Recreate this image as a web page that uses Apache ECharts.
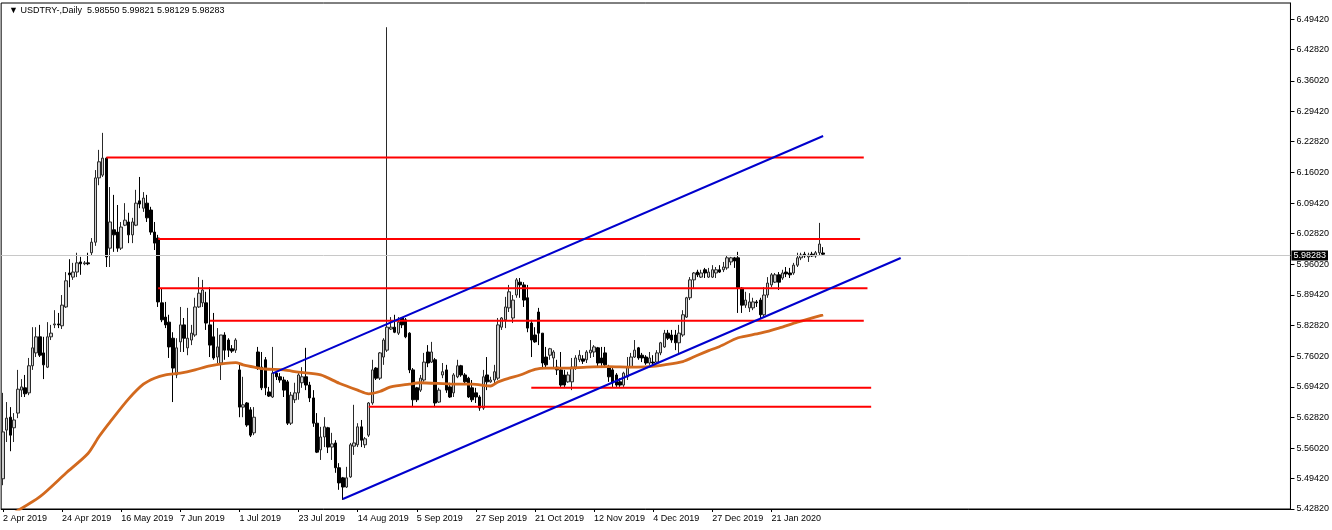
<!DOCTYPE html>
<html><head><meta charset="utf-8">
<script src="https://cdn.jsdelivr.net/npm/echarts@6/dist/echarts.min.js"></script>
<style>html,body{margin:0;padding:0;background:#fff}#c{width:1332px;height:530px}</style>
</head><body><div id="c"></div>
<script>
const chartTitle = '\u25BC USDTRY-,Daily  5.98550 5.99821 5.98129 5.98283';
const firstDate = '2019-04-02';
const holidays = ['2019-12-25', '2020-01-01'];
const totalSlots = 349;
const labelEvery = 16;

const open = [5.494,5.600,5.628,5.605,5.637,5.687,5.692,5.681,5.740,5.768,5.803,5.768,5.737,5.803,5.829,5.831,5.827,5.868,5.942,5.933,
5.944,5.966,5.962,5.964,5.986,6.009,6.149,6.155,6.192,5.996,6.036,6.031,5.996,6.046,6.053,6.025,6.046,6.099,6.083,6.094,
6.079,6.031,6.018,5.877,5.846,5.835,5.800,5.720,5.792,5.829,5.779,5.796,5.807,5.868,5.877,5.877,5.829,5.803,5.759,5.746,
5.807,5.796,5.777,5.774,5.731,5.650,5.659,5.644,5.594,5.770,5.737,5.753,5.683,5.672,5.724,5.716,5.709,5.705,5.615,5.666,
5.681,5.703,5.716,5.698,5.670,5.615,5.557,5.585,5.605,5.563,5.572,5.518,5.496,5.476,5.498,5.565,5.568,5.607,5.568,5.589,
5.659,5.735,5.713,5.759,5.774,5.820,5.824,5.811,5.844,5.840,5.811,5.731,5.692,5.687,5.709,5.770,5.748,5.753,5.661,5.720,
5.731,5.694,5.681,5.716,5.740,5.720,5.713,5.692,5.681,5.672,5.648,5.720,5.705,5.709,5.713,5.824,5.840,5.866,5.844,5.894,
5.922,5.916,5.888,5.833,5.807,5.857,5.811,5.759,5.763,5.757,5.737,5.731,5.720,5.705,5.705,5.737,5.753,5.755,5.753,5.768,
5.770,5.779,5.757,5.768,5.737,5.731,5.720,5.705,5.698,5.716,5.737,5.759,5.779,5.763,5.759,5.746,5.748,5.748,5.768,5.781,
5.811,5.807,5.807,5.790,5.807,5.846,5.888,5.927,5.944,5.933,5.949,5.933,5.933,5.942,5.949,5.949,5.953,5.966,5.975,5.975,
5.909,5.872,5.866,5.866,5.879,5.883,5.851,5.894,5.916,5.922,5.938,5.931,5.944,5.942,5.942,5.959,5.975,5.983,5.977,5.983,
5.979,5.986,5.98550];
const high = [5.681,5.661,5.650,5.637,5.731,5.711,5.720,5.757,5.824,5.824,5.829,5.803,5.835,5.829,5.861,5.855,5.894,5.944,5.972,5.964,
5.986,5.977,5.968,5.986,6.018,6.166,6.210,6.247,6.194,6.129,6.112,6.090,6.053,6.094,6.073,6.062,6.123,6.151,6.118,6.112,
6.086,6.053,6.025,5.909,5.879,5.851,5.813,5.800,5.868,5.844,5.866,5.829,5.888,5.933,5.927,5.901,5.911,5.855,5.822,5.807,
5.813,5.800,5.785,5.800,5.742,5.716,5.661,5.650,5.650,5.781,5.770,5.759,5.694,5.781,5.727,5.724,5.716,5.709,5.683,5.703,
5.724,5.737,5.779,5.705,5.687,5.637,5.607,5.628,5.607,5.594,5.578,5.528,5.498,5.520,5.572,5.655,5.615,5.622,5.585,5.661,
5.753,5.737,5.770,5.800,6.477,5.846,5.851,5.846,5.846,5.844,5.813,5.735,5.694,5.720,5.768,5.785,5.792,5.757,5.692,5.746,
5.742,5.703,5.724,5.753,5.742,5.724,5.716,5.709,5.692,5.676,5.731,5.759,5.716,5.742,5.844,5.846,5.890,5.916,5.894,5.931,
5.931,5.922,5.916,5.840,5.824,5.866,5.811,5.781,5.779,5.774,5.753,5.770,5.731,5.727,5.757,5.763,5.774,5.763,5.774,5.796,
5.785,5.781,5.781,5.781,5.742,5.735,5.724,5.713,5.727,5.759,5.768,5.796,5.781,5.768,5.763,5.770,5.763,5.774,5.792,5.818,
5.818,5.818,5.818,5.829,5.861,5.890,5.933,5.944,5.949,5.949,5.953,5.953,5.959,5.955,5.959,5.966,5.981,5.977,5.977,5.988,
5.911,5.901,5.898,5.888,5.883,5.888,5.911,5.933,5.942,5.942,5.944,5.949,5.955,5.953,5.964,5.986,5.986,5.988,5.986,5.988,
5.990,6.051,5.99821];
const low = [5.480,5.574,5.554,5.574,5.626,5.672,5.672,5.676,5.731,5.759,5.759,5.711,5.735,5.796,5.822,5.822,5.820,5.866,5.911,5.927,
5.933,5.938,5.959,5.959,5.979,6.001,6.133,6.151,5.955,5.955,5.988,5.988,5.992,6.044,6.007,6.007,6.044,6.083,6.075,6.053,
6.025,5.992,5.868,5.835,5.822,5.757,5.661,5.713,5.770,5.770,5.763,5.785,5.803,5.866,5.868,5.818,5.759,5.753,5.746,5.709,
5.753,5.759,5.768,5.768,5.628,5.628,5.607,5.585,5.589,5.731,5.687,5.676,5.672,5.670,5.709,5.703,5.672,5.611,5.611,5.659,
5.666,5.692,5.687,5.661,5.607,5.550,5.535,5.563,5.550,5.535,5.507,5.470,5.448,5.474,5.496,5.546,5.563,5.563,5.561,5.585,
5.655,5.709,5.709,5.742,5.770,5.818,5.811,5.807,5.822,5.800,5.724,5.650,5.661,5.683,5.705,5.737,5.746,5.650,5.659,5.713,
5.681,5.670,5.672,5.713,5.716,5.698,5.670,5.661,5.659,5.642,5.644,5.687,5.703,5.700,5.709,5.818,5.822,5.857,5.833,5.888,
5.888,5.868,5.813,5.759,5.790,5.785,5.737,5.735,5.753,5.735,5.720,5.694,5.694,5.703,5.687,5.731,5.748,5.744,5.746,5.757,
5.759,5.737,5.740,5.737,5.705,5.694,5.694,5.694,5.694,5.709,5.735,5.757,5.753,5.748,5.742,5.742,5.740,5.746,5.763,5.779,
5.796,5.790,5.774,5.768,5.803,5.844,5.883,5.909,5.933,5.931,5.931,5.931,5.931,5.931,5.942,5.944,5.949,5.959,5.953,5.855,
5.855,5.866,5.857,5.861,5.868,5.844,5.846,5.888,5.911,5.920,5.905,5.927,5.933,5.931,5.938,5.955,5.970,5.975,5.966,5.977,
5.975,5.981,5.98129];
const close = [5.596,5.626,5.589,5.622,5.689,5.694,5.679,5.740,5.779,5.803,5.763,5.742,5.803,5.811,5.831,5.829,5.872,5.925,5.938,5.944,
5.964,5.962,5.964,5.962,6.009,6.149,6.184,6.192,5.977,6.053,6.025,5.996,6.042,6.057,6.025,6.053,6.094,6.092,6.105,6.062,
6.031,6.007,5.879,5.840,5.829,5.781,5.735,5.779,5.829,5.800,5.800,5.811,5.868,5.898,5.905,5.833,5.785,5.757,5.781,5.807,
5.774,5.774,5.772,5.796,5.650,5.655,5.611,5.589,5.628,5.737,5.692,5.692,5.674,5.724,5.716,5.709,5.687,5.615,5.676,5.681,
5.720,5.716,5.698,5.670,5.615,5.552,5.585,5.607,5.563,5.570,5.518,5.485,5.476,5.496,5.568,5.572,5.607,5.578,5.581,5.659,
5.731,5.713,5.768,5.796,5.824,5.824,5.813,5.835,5.829,5.803,5.731,5.666,5.666,5.713,5.748,5.746,5.770,5.659,5.687,5.727,
5.687,5.672,5.720,5.740,5.720,5.705,5.672,5.666,5.672,5.648,5.716,5.705,5.709,5.727,5.829,5.844,5.868,5.901,5.883,5.927,
5.916,5.883,5.822,5.796,5.792,5.811,5.746,5.742,5.777,5.770,5.731,5.698,5.698,5.720,5.737,5.757,5.763,5.750,5.770,5.774,
5.781,5.746,5.746,5.742,5.716,5.703,5.698,5.698,5.724,5.737,5.759,5.774,5.757,5.757,5.746,5.757,5.746,5.768,5.790,5.811,
5.800,5.796,5.790,5.811,5.851,5.888,5.927,5.942,5.938,5.942,5.942,5.944,5.949,5.949,5.944,5.955,5.975,5.975,5.968,5.909,
5.872,5.883,5.879,5.879,5.877,5.851,5.894,5.920,5.938,5.938,5.922,5.942,5.940,5.938,5.959,5.975,5.981,5.979,5.981,5.979,
5.986,6.005,5.98283];

const priceTicks = ['6.49420','6.42820','6.36020','6.29420','6.22820','6.16020','6.09420','6.02820','5.96020','5.89420','5.82820','5.76020','5.69420','5.62820','5.56020','5.49420','5.42820'];
const lastPrice = 5.98283;

const maIdx = [3,10,17,23,26,29,34,38,41,44,48,52,56,63,65,68,71,76,80,86,91,96,99,102,105,110,113,122,127,132,134,137,140,144,147,152,158,164,170,175,179,184,188,191,194,199,205,210,215,222];
const maVal = [5.420,5.455,5.506,5.549,5.586,5.618,5.668,5.700,5.713,5.720,5.724,5.731,5.740,5.747,5.742,5.737,5.733,5.731,5.726,5.720,5.702,5.687,5.679,5.684,5.694,5.700,5.703,5.700,5.700,5.696,5.705,5.713,5.720,5.732,5.735,5.735,5.737,5.738,5.737,5.738,5.742,5.749,5.763,5.773,5.782,5.801,5.811,5.822,5.835,5.851];

const levelStart = [28, 42, 42, 56, 143, 99];
const levelEnd = [233, 232, 234, 233, 235, 235];
const levelPrice = [6.1933, 6.0159, 5.9086, 5.8381, 5.6922, 5.6509];

const upperIdx = [73, 222], upperVal = [5.7236, 6.2402];
const lowerIdx = [92, 243], lowerVal = [5.4500, 5.9746];

const months = ['Jan','Feb','Mar','Apr','May','Jun','Jul','Aug','Sep','Oct','Nov','Dec'];
const dates = [];
{
  const d = new Date(firstDate + 'T00:00:00Z');
  while (dates.length < open.length) {
    const dow = d.getUTCDay();
    const iso = d.toISOString().slice(0, 10);
    if (dow !== 0 && dow !== 6 && !holidays.includes(iso)) {
      dates.push(d.getUTCDate() + ' ' + months[d.getUTCMonth()] + ' ' + d.getUTCFullYear());
    }
    d.setUTCDate(d.getUTCDate() + 1);
  }
}
const categories = dates.slice();
for (let i = dates.length; i < totalSlots; i++) categories.push('pad' + i);
const showLabel = (i) => i % labelEvery === 0 && i < dates.length;

const candles = open.map((o, i) => [o, close[i], low[i], high[i]]);
const FONT = 'Liberation Sans';

const series = [{
  type: 'candlestick', data: candles, barWidth: 3, z: 2,
  itemStyle: { color: '#cfcfcf', color0: '#000000', borderColor: '#2a2a2a', borderColor0: '#000000', borderWidth: 1 },
  markLine: {
    silent: true, symbol: ['none', 'none'], animation: false,
    lineStyle: { color: '#c8c8c8', type: 'solid', width: 1 },
    label: { show: true, position: 'end', distance: 1, formatter: lastPrice.toFixed(5), backgroundColor: '#000', color: '#fff',
      fontFamily: FONT, fontSize: 9, padding: [1, 2, 0, 2] },
    data: [{ yAxis: lastPrice }]
  }
}];
levelPrice.forEach((p, k) => series.push({
  type: 'line', data: [[levelStart[k], p], [levelEnd[k], p]], showSymbol: false, silent: true, z: 4,
  lineStyle: { color: '#ff0000', width: 2 }
}));
series.push({ type: 'line', data: upperIdx.map((x, k) => [x, upperVal[k]]), showSymbol: false, silent: true, z: 5,
  lineStyle: { color: '#0000cd', width: 2 } });
series.push({ type: 'line', data: lowerIdx.map((x, k) => [x, lowerVal[k]]), showSymbol: false, silent: true, z: 5,
  lineStyle: { color: '#0000cd', width: 2 } });
series.push({ type: 'line', data: maIdx.map((x, k) => [x, maVal[k]]), showSymbol: false, silent: true, smooth: 0.25, z: 3,
  lineStyle: { color: '#d2691e', width: 2.8 } });

const chart = echarts.init(document.getElementById('c'), null, { renderer: 'canvas' });
chart.setOption({
  animation: false,
  backgroundColor: '#fff',
  title: { text: chartTitle, left: 4, top: 1, textStyle: { fontFamily: FONT, fontSize: 9, fontWeight: 'normal', color: '#000' } },
  grid: { left: 1, right: 41, top: 3, bottom: 21, show: true, borderColor: '#000', borderWidth: 1, backgroundColor: '#fff' },
  xAxis: {
    type: 'category', data: categories, boundaryGap: true,
    axisLine: { show: true, lineStyle: { color: '#000', width: 1 } },
    axisTick: { show: true, alignWithLabel: true, interval: (i) => showLabel(i), length: 3, lineStyle: { color: '#000' } },
    axisLabel: { interval: (i) => showLabel(i), align: 'left', margin: 5, fontFamily: FONT, fontSize: 9, color: '#000',
      formatter: (v, i) => (showLabel(i) ? v : '') },
    splitLine: { show: false }
  },
  yAxis: {
    type: 'value', position: 'right', min: 5.4282, max: 6.5297, scale: true,
    axisLine: { show: true, lineStyle: { color: '#000', width: 1 } },
    axisTick: { show: true, length: 4, customValues: priceTicks.map(Number), lineStyle: { color: '#000' } },
    axisLabel: { margin: 6, fontFamily: FONT, fontSize: 9, color: '#000', customValues: priceTicks.map(Number),
      formatter: (v) => { let best = priceTicks[0], bd = 1e9; priceTicks.forEach(t => { const dd = Math.abs(Number(t) - v); if (dd < bd) { bd = dd; best = t; } }); return best; } },
    splitLine: { show: false }
  },
  series
});
</script></body></html>
